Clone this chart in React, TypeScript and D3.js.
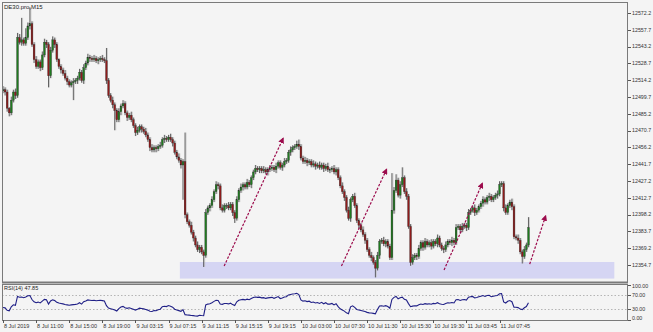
import React from "react";
import * as d3 from "d3";

// ---------- DATA ----------
const symbolTitle = "DE30.pro,M15";
const rsiTitle = "RSI(14) 47.85";
const firstOpen = 12505;
// RSI state carried in from the bars before the visible window
const rsiSeedGain = 1.5;
const rsiSeedLoss = 3.0;

const closes = [
  12506, 12504, 12490, 12486, 12497, 12504, 12501, 12551, 12547, 12549, 12546, 12551, 12561, 12563, 12545, 12532, 12526, 12530, 12525, 12536,
  12547, 12545, 12518, 12540, 12549, 12545, 12532, 12526, 12523, 12520, 12516, 12513, 12510, 12512, 12513, 12514, 12516, 12521, 12514, 12525,
  12529, 12534, 12533, 12532, 12533, 12531, 12532, 12533, 12532, 12531, 12514, 12501, 12497, 12493, 12488, 12480, 12487, 12492, 12494, 12486,
  12482, 12484, 12480, 12475, 12469, 12471, 12474, 12472, 12470, 12467, 12463, 12456, 12454, 12456, 12455, 12457, 12458, 12463, 12464, 12463,
  12465, 12463, 12460, 12452, 12448, 12445, 12441, 12444, 12398, 12392, 12389, 12383, 12378, 12372, 12368, 12370, 12366, 12363, 12400, 12404,
  12406, 12411, 12418, 12424, 12423, 12404, 12402, 12406, 12406, 12404, 12407, 12400, 12395, 12411, 12419, 12422, 12424, 12422, 12426, 12424,
  12430, 12435, 12438, 12437, 12438, 12436, 12437, 12435, 12437, 12438, 12439, 12437, 12440, 12443, 12439, 12441, 12444, 12445, 12452, 12454,
  12456, 12457, 12459, 12457, 12447, 12444, 12445, 12443, 12444, 12441, 12442, 12440, 12441, 12439, 12441, 12438, 12440, 12437, 12437, 12438,
  12435, 12437, 12430, 12423, 12418, 12413, 12402, 12395, 12411, 12414, 12406, 12393, 12389, 12385, 12381, 12376, 12368, 12363, 12361, 12357,
  12352, 12363, 12375, 12376, 12373, 12375, 12371, 12361, 12402, 12419, 12428, 12415, 12424, 12430, 12418, 12414, 12388, 12357, 12361, 12363,
  12362, 12369, 12374, 12370, 12375, 12372, 12374, 12371, 12375, 12373, 12378, 12372, 12369, 12368, 12372, 12375, 12374, 12376, 12374, 12387,
  12388, 12385, 12388, 12389, 12387, 12400, 12402, 12404, 12400, 12402, 12405, 12408, 12411, 12409, 12413, 12414, 12411, 12413, 12415, 12416,
  12424, 12425, 12404, 12400, 12406, 12409, 12405, 12379, 12378, 12376, 12366, 12362, 12368, 12372, 12387,
];

const upWick = [
  3, 2, 2, 1, 3, 2, 3, 4, 3, 19, 2, 8, 3, 14, 2, 2, 3, 2, 2, 3,
  3, 2, 2, 3, 3, 2, 2, 1, 2, 2, 3, 2, 2, 2, 3, 2, 2, 3, 2, 3,
  2, 3, 2, 2, 3, 2, 2, 2, 3, 2, 11, 2, 2, 3, 2, 2, 3, 2, 3, 2,
  2, 2, 3, 2, 2, 3, 2, 2, 2, 3, 2, 2, 3, 2, 2, 2, 3, 2, 3, 2,
  2, 3, 2, 2, 2, 3, 2, 2, 25, 2, 2, 3, 2, 2, 3, 2, 2, 2, 3, 2,
  2, 3, 2, 3, 2, 2, 3, 2, 2, 3, 2, 2, 2, 3, 2, 3, 2, 2, 3, 2,
  2, 2, 3, 2, 2, 2, 3, 2, 2, 3, 2, 2, 3, 2, 2, 2, 3, 2, 2, 3,
  2, 2, 3, 4, 2, 2, 3, 2, 2, 2, 3, 2, 2, 3, 2, 2, 2, 3, 2, 2,
  3, 2, 2, 2, 3, 2, 2, 3, 2, 2, 3, 2, 2, 2, 3, 2, 2, 2, 3, 2,
  2, 3, 2, 2, 3, 2, 2, 2, 32, 3, 5, 2, 3, 9, 2, 3, 2, 2, 3, 2,
  2, 3, 2, 2, 3, 2, 2, 3, 2, 2, 3, 2, 2, 2, 3, 2, 2, 3, 2, 3,
  2, 2, 3, 2, 2, 3, 2, 2, 3, 2, 2, 2, 3, 2, 2, 3, 2, 2, 2, 3,
  3, 2, 2, 3, 2, 2, 3, 2, 2, 3, 2, 2, 3, 2, 9,
];

const downWick = [
  2, 3, 3, 3, 2, 2, 3, 2, 2, 3, 2, 2, 2, 3, 2, 3, 2, 2, 3, 2,
  2, 3, 10, 2, 2, 3, 2, 2, 3, 2, 2, 3, 2, 2, 15, 2, 3, 2, 2, 3,
  2, 2, 3, 2, 2, 2, 3, 2, 2, 2, 3, 2, 2, 3, 17, 2, 2, 3, 2, 2,
  3, 2, 2, 2, 3, 2, 2, 3, 2, 2, 2, 3, 2, 2, 3, 2, 2, 2, 3, 2,
  2, 2, 3, 2, 2, 2, 3, 30, 3, 2, 2, 2, 3, 2, 2, 3, 2, 10, 2, 2,
  3, 2, 2, 2, 3, 2, 2, 2, 3, 2, 2, 3, 4, 2, 2, 2, 3, 2, 2, 2,
  3, 2, 2, 2, 3, 2, 2, 2, 3, 2, 2, 2, 3, 2, 2, 3, 2, 2, 2, 3,
  2, 2, 2, 3, 2, 2, 2, 3, 2, 2, 2, 3, 2, 2, 2, 3, 2, 2, 3, 2,
  2, 3, 2, 2, 2, 3, 2, 2, 3, 2, 2, 2, 3, 2, 2, 3, 2, 2, 3, 2,
  8, 2, 3, 2, 2, 3, 2, 2, 2, 3, 2, 2, 3, 2, 2, 3, 2, 3, 2, 2,
  3, 2, 2, 3, 2, 2, 2, 3, 2, 2, 3, 2, 2, 3, 2, 2, 2, 3, 2, 2,
  2, 3, 2, 2, 3, 2, 2, 2, 3, 2, 2, 2, 3, 2, 2, 3, 2, 2, 2, 3,
  2, 2, 3, 2, 2, 2, 3, 2, 2, 3, 2, 6, 2, 2, 2,
];

const priceTicks = [
  12354.7, 12369.2, 12383.7, 12398.2, 12412.7, 12427.2, 12441.7, 12456.2,
  12470.7, 12485.2, 12499.7, 12514.2, 12528.7, 12543.2, 12557.7, 12572.2,
];
const rsiTicks = [100, 70, 30, 0];
const rsiLevels = [70, 30];
const timeLabels = [
  "8 Jul 2019", "8 Jul 11:00", "8 Jul 15:00", "8 Jul 19:00", "9 Jul 03:15", "9 Jul 07:15",
  "9 Jul 11:15", "9 Jul 15:15", "9 Jul 19:15", "10 Jul 03:00", "10 Jul 07:30", "10 Jul 11:30",
  "10 Jul 15:30", "10 Jul 19:30", "11 Jul 03:45", "11 Jul 07:45",
];
const barsPerLabel = 16;

// support zone (bar index range, price range)
const zoneBars = [85.5, 295.5];
const zonePrices = [12343, 12357.3];

// dashed arrows: [bar, price]
const arrowStarts = [
  [106.9, 12353.8],
  [163.6, 12353.8],
  [213.2, 12350.4],
  [254.6, 12355.5],
];
const arrowEnds = [
  [135.4, 12464.0],
  [185.4, 12437.3],
  [231.7, 12425.2],
  [262.3, 12397.0],
];

// ---------- LAYOUT ----------
const W = 653;
const H = 332;
const L = 2;
const R = 628;
const mainTop = 2;
const mainBottom = 282;
const rsiTop = 284;
const rsiBottom = 320;
const FONT = "'Liberation Sans', Arial, sans-serif";

export default function App() {
  const n = closes.length;
  const opens = [firstOpen, ...closes.slice(0, n - 1)];
  const highs = closes.map((c, i) => Math.max(c, opens[i]) + upWick[i]);
  const lows = closes.map((c, i) => Math.min(c, opens[i]) - downWick[i]);

  // RSI(14), Wilder smoothing
  const rsi: number[] = [];
  let ag = rsiSeedGain;
  let al = rsiSeedLoss;
  for (let i = 0; i < n; i++) {
    const ch = closes[i] - opens[i];
    ag = (ag * 13 + Math.max(ch, 0)) / 14;
    al = (al * 13 + Math.max(-ch, 0)) / 14;
    rsi.push(100 - 100 / (1 + ag / al));
  }

  const x = d3.scaleLinear().domain([0, barsPerLabel]).range([3, 3 + 33.1]);
  const y = d3.scaleLinear().domain([12354.7, 12572.2]).range([265, 13]);
  const ry = d3.scaleLinear().domain([0, 100]).range([rsiBottom - 0.5, rsiTop + 0.5]);

  const rsiLine = d3
    .line<number>()
    .x((_, i) => x(i))
    .y((v) => ry(v))(rsi) as string;

  const bull = "#1f7a1f";
  const bear = "#8e1b1b";
  const arrowColor = "#9c0b4c";

  return (
    <div style={{ position: "fixed", left: 0, top: 0, width: W, height: H }}>
      <svg width={W} height={H} style={{ display: "block", fontFamily: FONT }}>
        <defs>
          <marker id="ah" viewBox="0 0 10 10" refX="8" refY="5" markerWidth="6" markerHeight="6" orient="auto" markerUnits="userSpaceOnUse">
            <path d="M0,0 L10,5 L0,10 z" fill={arrowColor} />
          </marker>
          <clipPath id="mainClip">
            <rect x={L} y={mainTop} width={R - L} height={mainBottom - mainTop} />
          </clipPath>
        </defs>
        <rect x={0} y={0} width={W} height={H} fill="#f4f4f4" />

        {/* support zone */}
        <rect
          x={x(zoneBars[0])}
          y={y(zonePrices[1])}
          width={x(zoneBars[1]) - x(zoneBars[0])}
          height={y(zonePrices[0]) - y(zonePrices[1])}
          fill="#d5d5f3"
        />

        {/* candles */}
        <g clipPath="url(#mainClip)">
          {closes.map((c, i) => {
            const o = opens[i];
            const cx = x(i);
            const top = y(Math.max(o, c));
            const bot = y(Math.min(o, c));
            return (
              <g key={i}>
                <line x1={cx + 1} x2={cx + 1} y1={y(highs[i])} y2={y(lows[i])} stroke="#c4c4c4" strokeWidth={0.8} />
                <line x1={cx} x2={cx} y1={y(highs[i])} y2={y(lows[i])} stroke="#3c3c3c" strokeWidth={0.8} />
                <rect
                  x={cx - 0.9}
                  y={top}
                  width={1.8}
                  height={Math.max(bot - top, 0.6)}
                  fill={c >= o ? bull : bear}
                  stroke="#2a2a2a"
                  strokeWidth={0.3}
                />
              </g>
            );
          })}
        </g>

        {/* arrows */}
        {arrowStarts.map((s, k) => (
          <line
            key={k}
            x1={x(s[0])}
            y1={y(s[1])}
            x2={x(arrowEnds[k][0])}
            y2={y(arrowEnds[k][1])}
            stroke={arrowColor}
            strokeWidth={1.2}
            strokeDasharray="2.5,1.5"
            markerEnd="url(#ah)"
          />
        ))}

        {/* main frame */}
        <rect x={L + 0.5} y={mainTop + 0.5} width={R - L - 1} height={mainBottom - mainTop} fill="none" stroke="#7a7a7a" strokeWidth={1} />
        <line x1={L} x2={R} y1={mainBottom + 0.5} y2={mainBottom + 0.5} stroke="#7a7a7a" strokeWidth={2} />

        {/* price axis */}
        {priceTicks.map((p) => (
          <g key={p}>
            <line x1={R} x2={R + 3} y1={Math.round(y(p)) + 0.5} y2={Math.round(y(p)) + 0.5} stroke="#555" strokeWidth={1} />
            <text x={R + 4} y={y(p)} dy="0.35em" fontSize={5.3} fill="#333">
              {p.toFixed(1)}
            </text>
          </g>
        ))}

        <text x={4} y={9} fontSize={6} fill="#222">
          {symbolTitle}
        </text>

        {/* RSI panel */}
        {rsiLevels.map((v) => (
          <line key={v} x1={L} x2={R} y1={Math.round(ry(v)) + 0.5} y2={Math.round(ry(v)) + 0.5} stroke="#9a9a9a" strokeWidth={0.7} strokeDasharray="1.5,2" />
        ))}
        <path d={rsiLine} fill="none" stroke="#1f1f86" strokeWidth={1.1} />
        <rect x={L + 0.5} y={rsiTop + 0.5} width={R - L - 1} height={rsiBottom - rsiTop} fill="none" stroke="#7a7a7a" strokeWidth={1} />
        <text x={4} y={rsiTop + 6} fontSize={5.5} fill="#222">
          {rsiTitle}
        </text>
        {rsiTicks.map((v) => (
          <g key={v}>
            <line x1={R} x2={R + 3} y1={Math.round(ry(v)) + 0.5} y2={Math.round(ry(v)) + 0.5} stroke="#555" strokeWidth={1} />
            <text x={R + 4} y={ry(v) + (v === 100 ? 1.5 : v === 0 ? -1 : 0)} dy="0.35em" fontSize={5.3} fill="#333">
              {v.toFixed(2)}
            </text>
          </g>
        ))}

        {/* time axis */}
        {timeLabels.map((t, k) => {
          const tx = x(k * barsPerLabel);
          return (
            <g key={t}>
              <line x1={Math.round(tx) + 0.5} x2={Math.round(tx) + 0.5} y1={rsiBottom} y2={rsiBottom + 3} stroke="#555" strokeWidth={1} />
              <text x={tx + 1} y={328} fontSize={5.5} fill="#333">
                {t}
              </text>
            </g>
          );
        })}
      </svg>
    </div>
  );
}
